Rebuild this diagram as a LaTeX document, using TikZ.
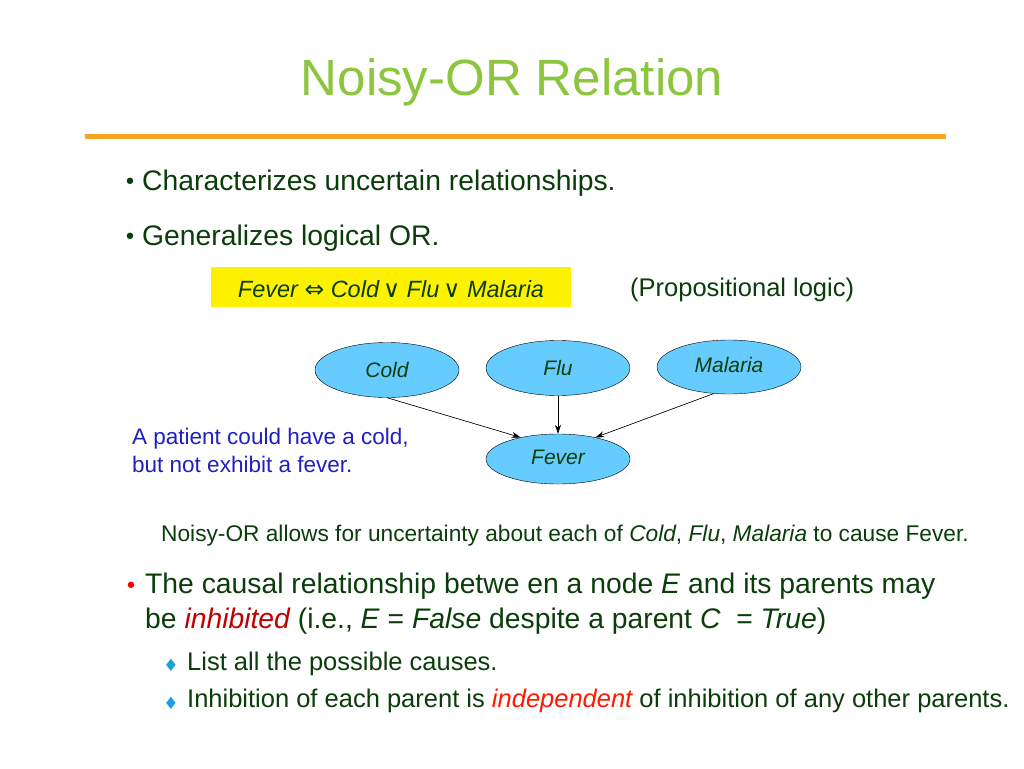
\documentclass[tikz,border=0pt]{standalone}
\usepackage{fontspec}
\setmainfont{Liberation Sans}
\newfontfamily\djv{DejaVu Sans}
\usetikzlibrary{shapes.geometric,arrows.meta}
\definecolor{tgreen}{HTML}{0B3D0B}
\definecolor{ttl}{HTML}{8CC63F}
\definecolor{ora}{HTML}{F7A51E}
\definecolor{nodeb}{HTML}{66CCFF}
\definecolor{pblue}{HTML}{2020C0}
\definecolor{dia}{HTML}{1E9FE0}
\tikzset{
  bn/.style={ellipse,draw=black,fill=nodeb,minimum width=144pt,minimum height=55pt,inner sep=0pt,font=\fontsize{21}{24}\selectfont\itshape,text=tgreen},
  arr/.style={-{Stealth[length=9pt,width=6pt]},draw=black,fill=tgreen,line width=0.6pt},
  txt/.style={anchor=west,inner sep=0pt,text=tgreen,font=\fontsize{28.3}{32}\selectfont},
  sm/.style={anchor=west,inner sep=0pt,text=tgreen,font=\fontsize{25.5}{28}\selectfont}
}
\begin{document}
\begin{tikzpicture}[x=1pt,y=-1pt]
\useasboundingbox (0,0) rectangle (1024,768);
\fill[white] (0,0) rectangle (1024,768);
\node[inner sep=0pt,text=ttl,font=\fontsize{51}{56}\selectfont] (title) at (512,82) {Noisy-OR Relation};
\fill[ora] (85,133.5) rectangle (946,138.5);
\node[text=tgreen,inner sep=0pt,font=\fontsize{22}{22}\selectfont] (b1) at (130,184) {\djv •};
\node[txt] (t1) at (142,183) {Characterizes uncertain relationships.};
\node[text=tgreen,inner sep=0pt,font=\fontsize{22}{22}\selectfont] (b2) at (130,239) {\djv •};
\node[txt] (t2) at (142,238) {Generalizes logical OR.};
\fill[yellow] (211,267) rectangle (571,307);
\node[sm,anchor=center,font=\fontsize{23.5}{26}\selectfont] (form) at (391,289) {\itshape Fever \upshape{\djv ⇔} \itshape Cold\upshape{\djv\,∨} \itshape Flu\upshape{\djv\,∨} \itshape Malaria};
\node[sm] (prop) at (630,290) {(Propositional logic)};
\node[bn] (cold) at (387,370) {Cold};
\node[bn] (flu) at (558,368) {Flu};
\node[bn,minimum height=54pt] (mal) at (729,367) {\raisebox{4pt}{Malaria}};
\node[bn,minimum height=50pt] (fev) at (558,459) {\raisebox{4pt}{Fever}};
\draw[arr] (cold.south) -- (fev.150);
\draw[arr] (flu.south) -- (fev.north);
\draw[arr] (mal.240) -- (fev.30);
\node[anchor=north west,inner sep=0pt,align=left,text=pblue,font=\fontsize{22.5}{28}\selectfont] (pat) at (132,428) {A patient could have a cold,\\but not exhibit a fever.};
\node[sm,font=\fontsize{22.7}{26}\selectfont] (noisy) at (161,536) {Noisy-OR allows for uncertainty about each of \itshape Cold\upshape, \itshape Flu\upshape, \itshape Malaria\upshape{} to cause Fever.};
\node[text=red,inner sep=0pt,font=\fontsize{22}{22}\selectfont] (b3) at (131,588) {\djv •};
\node[txt] (t3) at (145,586) {The causal relationship betwe en a node \textrm{\itshape E} and its parents may};
\node[txt] (t4) at (145,621) {be \textcolor{red!75!black}{\itshape inhibited} (i.e., \textrm{\itshape E} = \itshape False\upshape{} despite a parent \textrm{\itshape C} \ = \itshape True\upshape)};
\node[text=dia,inner sep=0pt,font=\fontsize{17}{17}\selectfont] (d1) at (171,665) {\djv ♦};
\node[sm] (t5) at (187,664) {List all the possible causes.};
\node[text=dia,inner sep=0pt,font=\fontsize{17}{17}\selectfont] (d2) at (171,703) {\djv ♦};
\node[sm] (t6) at (187,701) {Inhibition of each parent is \textcolor{red!80!orange}{\itshape independent} of inhibition of any other parents.};
\end{tikzpicture}
\end{document}
